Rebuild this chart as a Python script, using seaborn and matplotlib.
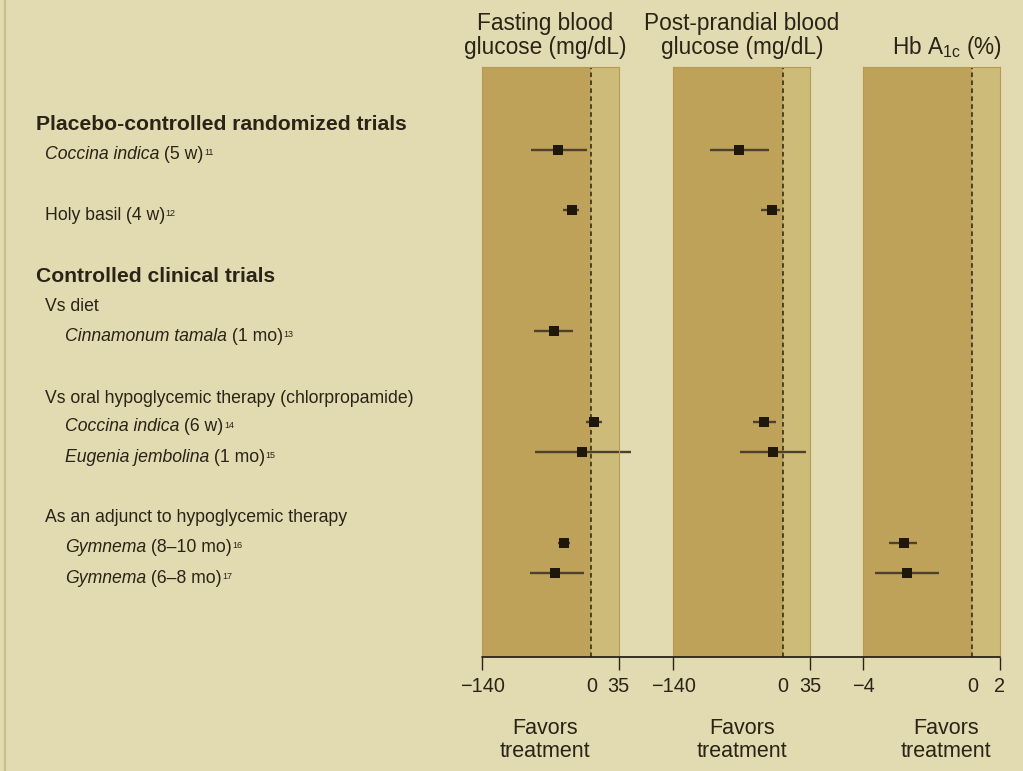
import numpy as np
import pandas as pd
import seaborn as sns
import matplotlib.pyplot as plt
from matplotlib.lines import Line2D
from matplotlib.transforms import blended_transform_factory

# Studies (one row each)
studies = ["Coccina indica", "Holy basil", "Cinnamonum tamala", "Coccina indica",
           "Eugenia jembolina", "Gymnema", "Gymnema"]
is_italic = [True, False, True, True, True, True, True]
durations = ["5 w", "4 w", "1 mo", "6 w", "1 mo", "8\u201310 mo", "6\u20138 mo"]
refs = ["11", "12", "13", "14", "15", "16", "17"]

headers = ["Placebo-controlled randomized trials", "Controlled clinical trials"]
subgroups = ["Vs diet", "Vs oral hypoglycemic therapy (chlorpropamide)",
             "As an adjunct to hypoglycemic therapy"]

nan = np.nan
# Fasting blood glucose (mg/dL): mean change and interval
fbg_mean = [-43, -25, -48, 3, -12, -35, -46.5]
fbg_lo = [-77, -36, -73, -7, -72, -43, -79]
fbg_hi = [-6, -16, -23, 13, 51, -27, -10]
# Post-prandial blood glucose (mg/dL)
ppbg_mean = [-56, -13.5, nan, -24, -12, nan, nan]
ppbg_lo = [-93, -28, nan, -38, -54, nan, nan]
ppbg_hi = [-17, -3, nan, -9, 30, nan, nan]
# Hb A1c (%)
hba_mean = [nan, nan, nan, nan, nan, -2.5, -2.4]
hba_lo = [nan, nan, nan, nan, nan, -3.05, -3.55]
hba_hi = [nan, nan, nan, nan, nan, -2.03, -1.22]

panel_titles = [["Fasting blood", "glucose (mg/dL)"],
                ["Post-prandial blood", "glucose (mg/dL)"],
                ["", r"Hb A$_{\mathrm{1c}}$ (%)"]]
panel_ticks = [[-140, 0, 35], [-140, 0, 35], [-4, 0, 2]]
favors = ["Favors", "treatment"]

# ---- layout ----
W, H = 1023, 771
study_rows = [0, 2, 6, 9, 10, 13, 14]
study_indent = [45, 45, 65, 65, 65, 65, 65]
header_rows = [-0.97, 4.07]
sub_rows = [5.03, 8.06, 12.0]
ylim = (16.78, -2.745)

bg = "#e2dab0"
dark = "#bea25a"
light = "#cdbb7a"
ink = "#2a2316"
mk = "#1f1709"
whisk = "#4d412b"

sns.set_theme(style="white")
plt.rcParams["font.family"] = ["Liberation Sans", "DejaVu Sans"]
plt.rcParams["mathtext.fontset"] = "custom"
plt.rcParams["mathtext.rm"] = "Liberation Sans"
plt.rcParams["mathtext.it"] = "Liberation Sans:italic"

fig = plt.figure(figsize=(W / 100, H / 100), dpi=100, facecolor=bg)

top_px, bot_px = 66.7, 657
bottom = 1 - bot_px / H
height = (bot_px - top_px) / H

# left text column
ax_txt = fig.add_axes([0, bottom, 0.47, height])
ax_txt.set_ylim(*ylim)
ax_txt.axis("off")
tr = blended_transform_factory(fig.transFigure, ax_txt.transData)

for txt, r in zip(headers, header_rows):
    ax_txt.text(36 / W, r + 0.32, txt, transform=tr, fontsize=15.2, fontweight="bold",
                color=ink, va="baseline", ha="left")
for txt, r in zip(subgroups, sub_rows):
    ax_txt.text(45 / W, r + 0.32, txt, transform=tr, fontsize=12.7, color=ink,
                va="baseline", ha="left")
for name, it, dur, ref, r, ind in zip(studies, is_italic, durations, refs, study_rows, study_indent):
    t1 = ax_txt.text(ind / W, r + 0.32, name, transform=tr, fontsize=12.7, color=ink,
                     style="italic" if it else "normal", va="baseline", ha="left")
    t2 = ax_txt.annotate(f" ({dur})", xy=(1, 0), xycoords=t1, va="bottom", ha="left",
                         fontsize=12.7, color=ink)
    ax_txt.annotate(ref, xy=(1, 1), xycoords=t2, xytext=(0.2, -1.5), textcoords="offset points",
                    va="top", ha="left", fontsize=6.5, color=ink)

# three forest panels
panel_left_px = [482, 673.2, 862.9]
panel_w_px = 136.7
title_x_px = [545.5, 742, 946.5]
favors_x_px = [545.3, 742, 946]
means = [fbg_mean, ppbg_mean, hba_mean]
los = [fbg_lo, ppbg_lo, hba_lo]
his = [fbg_hi, ppbg_hi, hba_hi]

for i in range(3):
    ax = fig.add_axes([panel_left_px[i] / W, bottom, panel_w_px / W, height])
    ax.set_facecolor(dark)
    lo_lim, hi_lim = panel_ticks[i][0], panel_ticks[i][-1]
    if i == 2:
        ax.set_xscale("function", functions=(lambda x: np.where(x < 0, x * 35, x * 17.5),
                                             lambda y: np.where(y < 0, y / 35, y / 17.5)))
    ax.axvspan(0, hi_lim, color=light, lw=0, zorder=0)
    ax.axvline(0, color=ink, ls=(0, (3, 2.2)), lw=1.1, zorder=1, clip_on=False)

    df = pd.DataFrame({"row": study_rows, "mean": means[i], "lo": los[i], "hi": his[i]}).dropna()
    ax.hlines(df["row"], df["lo"], df["hi"], color=whisk, lw=1.7, zorder=2, clip_on=False)
    sns.scatterplot(data=df, x="mean", y="row", marker="s", s=62, color=mk, edgecolor=mk,
                    linewidth=0, ax=ax, zorder=3, legend=False, clip_on=False)

    ax.set_xlim(lo_lim, hi_lim)
    ax.set_ylim(*ylim)
    ax.set_yticks([])
    ax.set_xticks(panel_ticks[i])
    ax.set_xticklabels([f"{v}".replace("-", "\u2212") for v in panel_ticks[i]])
    ax.set_xlabel("")
    ax.set_ylabel("")
    for name, sp in ax.spines.items():
        sp.set_visible(name != "bottom")
        sp.set_color("#b59a52")
        sp.set_linewidth(0.8)
    ax.tick_params(axis="x", direction="out", length=9, width=1, color=ink, pad=5.5,
                   labelsize=14.3, labelcolor=ink, bottom=True)
    ax.xaxis.get_major_ticks()[1].tick1line.set_visible(False)

    # titles
    for line, ybase in zip(panel_titles[i], [30, 54]):
        if line:
            fig.text(title_x_px[i] / W, 1 - ybase / H, line, ha="center", va="baseline",
                     fontsize=16.3, color=ink)
    for line, ybase in zip(favors, [734, 757]):
        fig.text(favors_x_px[i] / W, 1 - ybase / H, line, ha="center", va="baseline",
                 fontsize=15.5, color=ink)

# continuous axis line under the panels and left border
fig.add_artist(Line2D([482 / W, 1000 / W], [bottom, bottom], transform=fig.transFigure,
                      color=ink, lw=1.3))
fig.add_artist(Line2D([5 / W, 5 / W], [0, 1], transform=fig.transFigure, color="#c9bd8c", lw=1.5))

fig.savefig("out.png", dpi=100, facecolor=bg)
